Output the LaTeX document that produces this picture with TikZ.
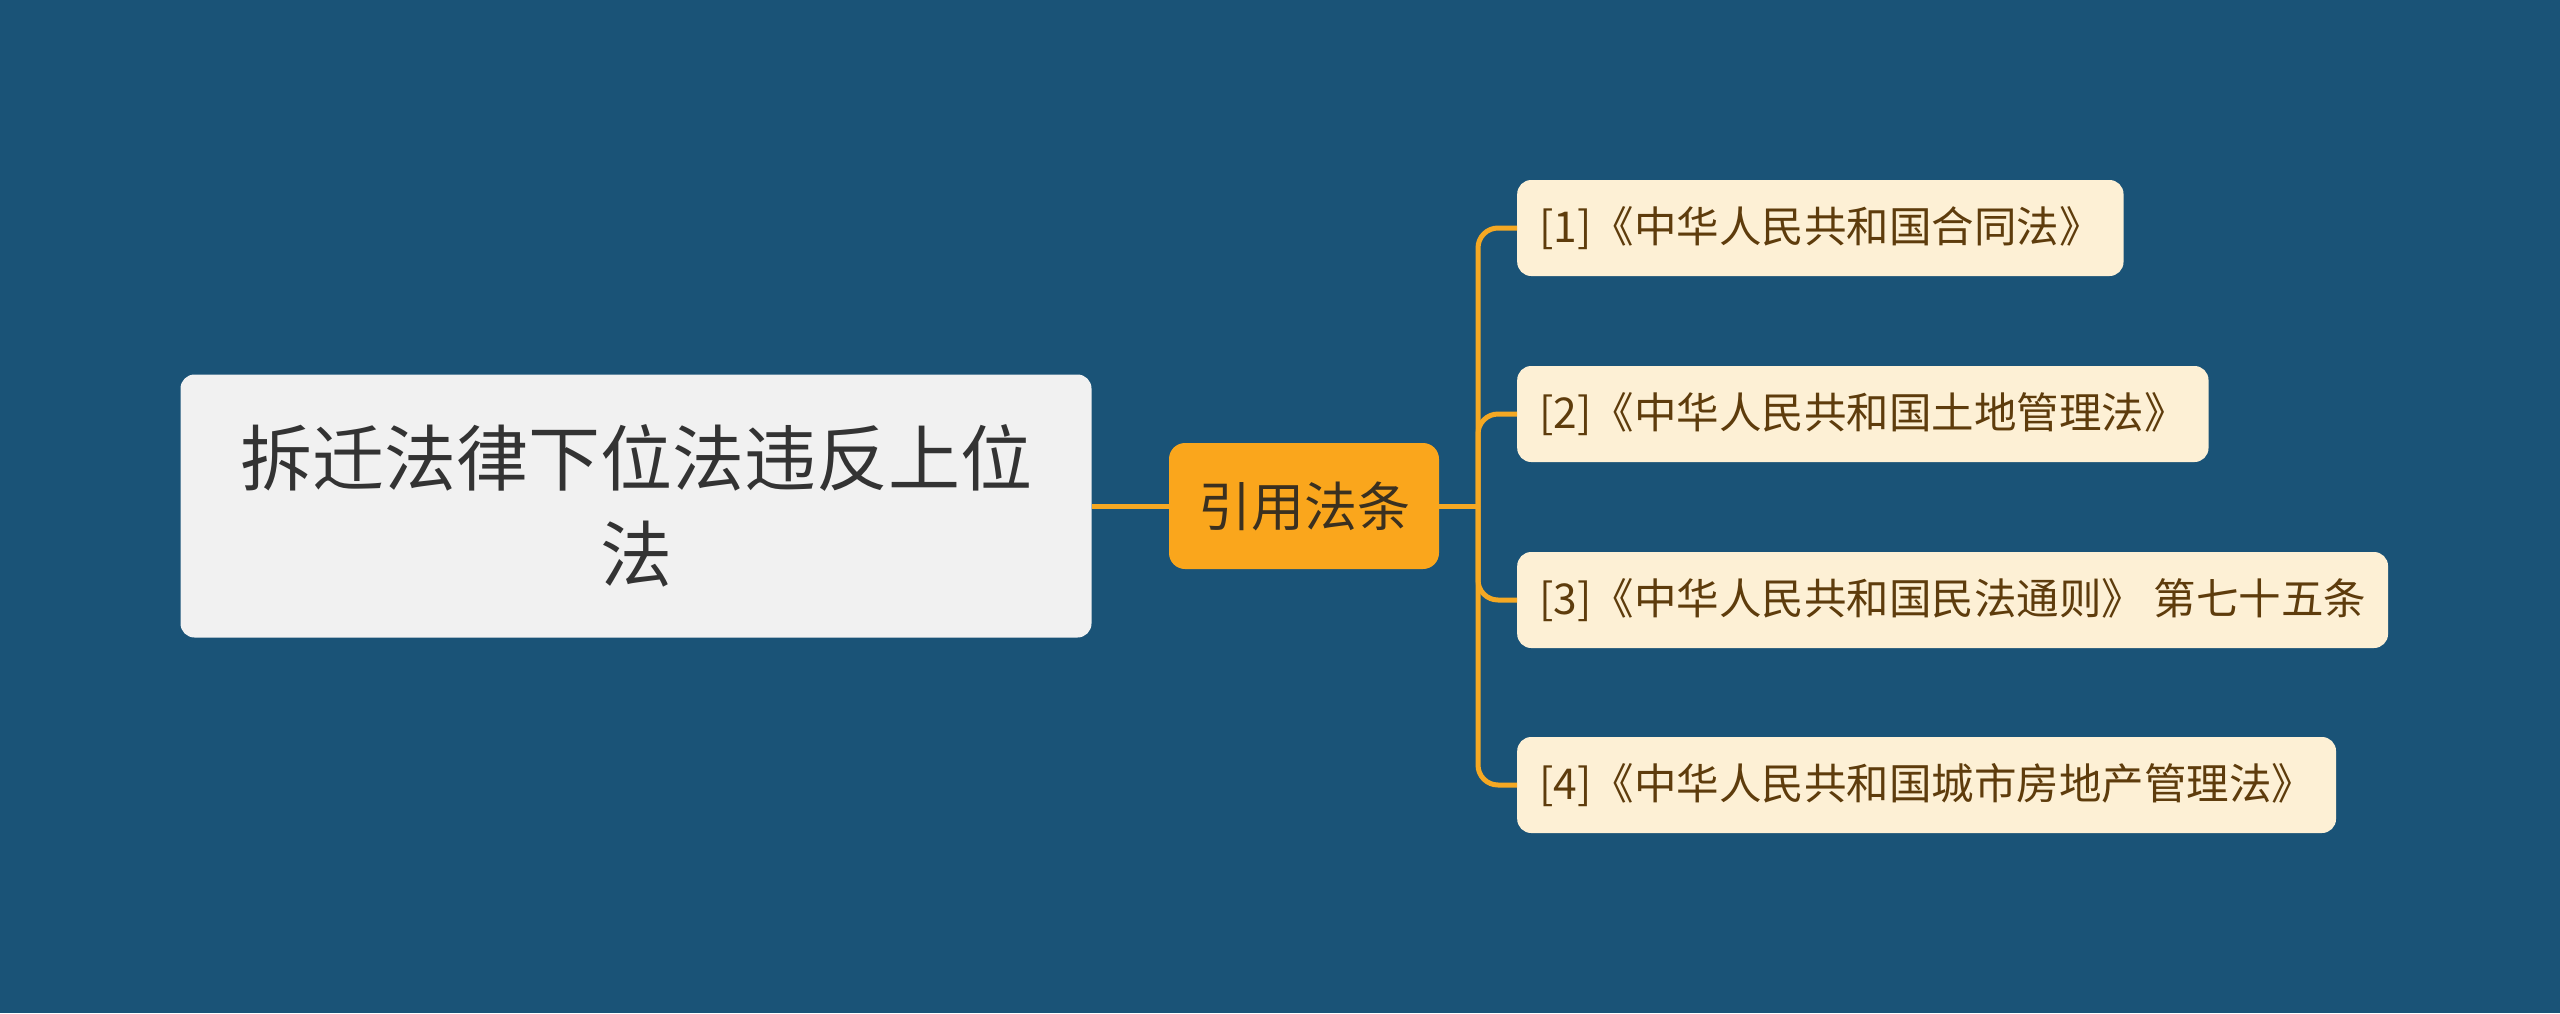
\documentclass[tikz,border=0pt]{standalone}
\usepackage{fontspec}
\setmainfont{Noto Sans CJK SC}
\definecolor{bg}{RGB}{26,83,119}
\definecolor{rootfill}{RGB}{241,241,241}
\definecolor{roottext}{RGB}{51,51,51}
\definecolor{midfill}{RGB}{250,166,28}
\definecolor{midtext}{RGB}{58,48,32}
\definecolor{leaffill}{RGB}{253,240,213}
\definecolor{leaftext}{RGB}{94,60,12}
\definecolor{linkc}{RGB}{245,168,35}
\begin{document}
\begin{tikzpicture}[x=1pt,y=-1pt,
  rootbox/.style={fill=rootfill, rounded corners=14pt, minimum width=911pt, minimum height=263pt,
    align=center, inner sep=0pt, text=roottext, font=\fontsize{72}{96}\selectfont},
  midbox/.style={fill=midfill, rounded corners=16pt, minimum width=270pt, minimum height=126pt,
    inner sep=0pt, text=midtext, font=\fontsize{53}{64}\selectfont},
  leafbox/.style={fill=leaffill, rounded corners=14pt, minimum height=96pt, inner xsep=22pt,
    inner ysep=0pt, anchor=west, text=leaftext, font=\fontsize{42.5}{52}\selectfont},
  link/.style={draw=linkc, line width=5pt},
  branch/.style={link, rounded corners=20pt}]
\useasboundingbox (0,0) rectangle (2560,1013);
\fill[bg] (0,0) rectangle (2560,1013);

\node[rootbox] (root) at (636,506) {拆迁法律下位法违反上位\\法};
\node[midbox] (mid) at (1304,506) {引用法条};

\node[leafbox] (l1) at (1517,228) {[1]《中华人民共和国合同法》};
\node[leafbox] (l2) at (1517,414) {[2]《中华人民共和国土地管理法》};
\node[leafbox] (l3) at (1517,600) {[3]《中华人民共和国民法通则》 第七十五条};
\node[leafbox] (l4) at (1517,785) {[4]《中华人民共和国城市房地产管理法》};

\coordinate (j) at (1478,506);

\draw[link] (root.east) -- (mid.west);
\draw[link] (mid.east) -- (j);
\draw[branch] (j) |- (l1.west);
\draw[branch] (j) |- (l2.west);
\draw[branch] (j) |- (l3.west);
\draw[branch] (j) |- (l4.west);
\end{tikzpicture}
\end{document}
